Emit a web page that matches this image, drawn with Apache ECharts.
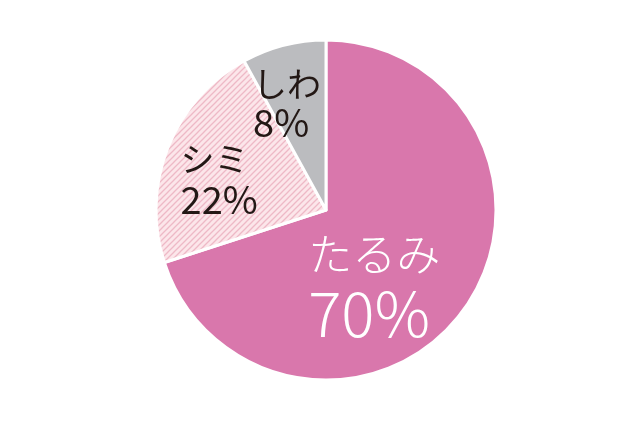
<!DOCTYPE html>
<html>
<head>
<meta charset="utf-8">
<script src="https://cdn.jsdelivr.net/npm/echarts@6/dist/echarts.min.js"></script>
<style>
html,body{margin:0;padding:0;background:#fff;}
#c{width:640px;height:426px;}
</style>
</head>
<body>
<div id="c"></div>
<script>
const categories = ['たるみ', 'シミ', 'しわ'];
const values = [70, 22, 8];
const percentLabels = ['70%', '22%', '8%'];

function hatch() {
  const s = 6;
  const cv = document.createElement('canvas');
  cv.width = s; cv.height = s;
  const g = cv.getContext('2d');
  g.fillStyle = '#fce6ea';
  g.fillRect(0, 0, s, s);
  g.strokeStyle = '#eeb9c6';
  g.lineWidth = 1.3;
  g.beginPath();
  g.moveTo(-1, s + 1); g.lineTo(s + 1, -1);
  g.moveTo(-1, 1); g.lineTo(1, -1);
  g.moveTo(s - 1, s + 1); g.lineTo(s + 1, s - 1);
  g.stroke();
  return cv;
}

const font = '"Noto Sans CJK JP", "Noto Sans", sans-serif';
const styles = [
  { color: '#d977ac', text: '#ffffff', weight: 300, nameSize: 44, pctSize: 62, nameLH: 56, pctLH: 62, offset: [-23, 24] },
  { color: { image: hatch(), repeat: 'repeat' }, text: '#231815', weight: 400, nameSize: 34, pctSize: 38, nameLH: 40, pctLH: 42, offset: [-25, 2] },
  { color: '#bbbcbf', text: '#231815', weight: 400, nameSize: 34, pctSize: 38, nameLH: 38, pctLH: 40, offset: [-17, -21] }
];

const data = categories.map((name, i) => ({
  name: name,
  value: values[i],
  itemStyle: { color: styles[i].color },
  label: {
    offset: styles[i].offset,
    formatter: '{n|' + name + '}\n{p|' + percentLabels[i] + '}',
    rich: {
      n: { fontSize: styles[i].nameSize, lineHeight: styles[i].nameLH, color: styles[i].text, fontFamily: font, fontWeight: styles[i].weight, align: 'left' },
      p: { fontSize: styles[i].pctSize, lineHeight: styles[i].pctLH, color: styles[i].text, fontFamily: font, fontWeight: styles[i].weight, align: 'left' }
    }
  }
}));

const chart = echarts.init(document.getElementById('c'), null, { renderer: 'canvas' });
chart.setOption({
  animation: false,
  backgroundColor: '#ffffff',
  series: [{
    type: 'pie',
    center: [326, 210],
    radius: [0, 170],
    startAngle: 90,
    clockwise: true,
    silent: true,
    avoidLabelOverlap: false,
    minShowLabelAngle: 0,
    labelLayout: { hideOverlap: false },
    itemStyle: { borderColor: '#ffffff', borderWidth: 3 },
    label: {
      show: true,
      position: 'inside',
      verticalAlign: 'middle'
    },
    labelLine: { show: false },
    data: data
  }]
});
</script>
</body>
</html>
